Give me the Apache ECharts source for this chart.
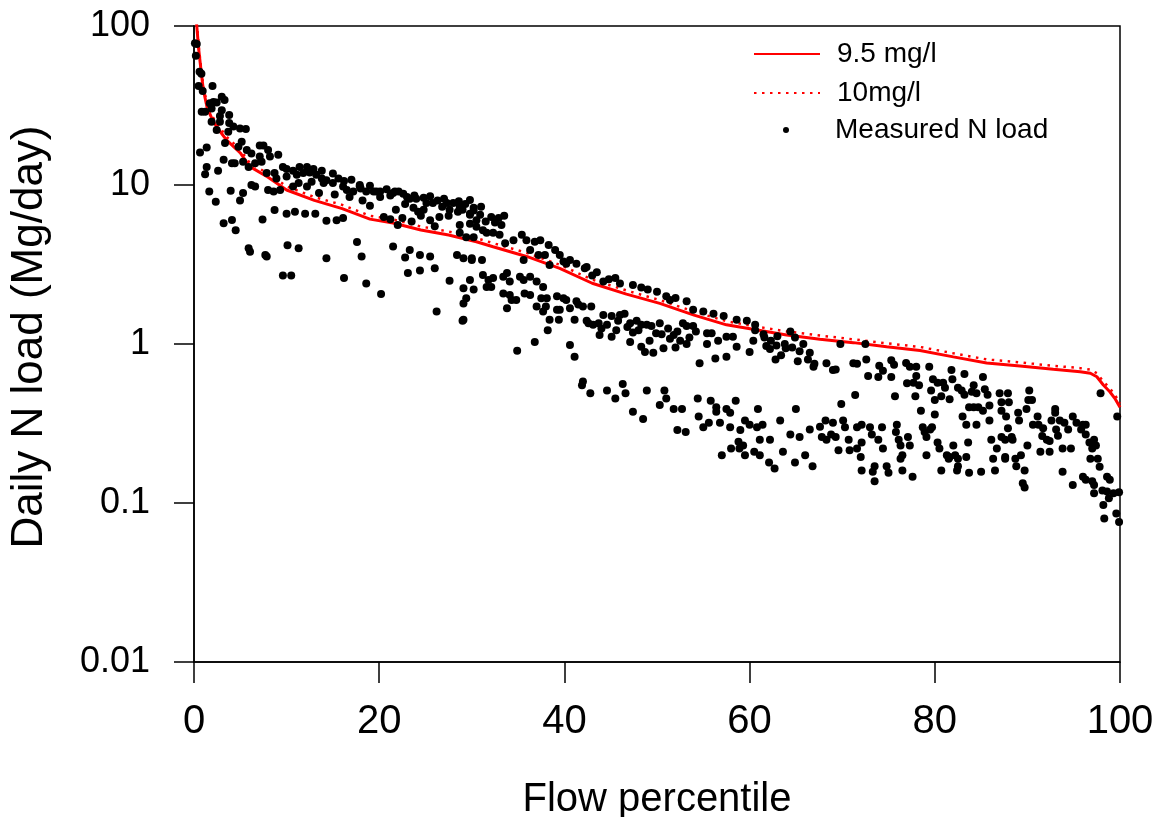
<!DOCTYPE html>
<html>
<head>
<meta charset="utf-8">
<script src="https://cdn.jsdelivr.net/npm/echarts@6/dist/echarts.min.js"></script>
<style>
html,body{margin:0;padding:0;background:#fff;}
#chart{width:1159px;height:817px;}
</style>
</head>
<body>
<div id="chart"></div>
<script>
// Flow percentile positions of the two reference load curves
const curvePct = [0,0.3,0.5,0.8,1.0,1.4,2.0,2.5,3.5,5,6,8,10,13,16,19,21.5,24.5,27.5,30.5,32.3,36,39.5,43,46.7,50.3,54,57.5,61,64,67.6,71.2,74.8,78.4,82,85.6,89.2,92.8,95.7,96.8,97.5,98.2,98.9,99.5,100];
// Load at 9.5 mg/l (Mg/day)
const load95 = [140,100,72,50,40,31,25.6,23,19.2,15.9,13.1,11.2,9.3,8.0,7.1,6.1,5.77,5.21,4.85,4.40,4.09,3.54,2.99,2.41,2.06,1.80,1.52,1.32,1.22,1.14,1.07,1.02,0.96,0.91,0.83,0.76,0.727,0.693,0.670,0.655,0.622,0.552,0.501,0.45,0.40];
// Load at 10 mg/l (Mg/day)
const load10 = [147,105.3,75.8,52.6,42.1,32.6,26.9,24.2,20.2,16.7,13.8,11.8,9.8,8.4,7.5,6.4,6.07,5.48,5.1,4.63,4.31,3.73,3.15,2.54,2.17,1.89,1.6,1.39,1.28,1.2,1.13,1.07,1.01,0.958,0.874,0.8,0.765,0.73,0.705,0.69,0.655,0.581,0.527,0.474,0.421];
// Measured N load points [flow percentile, Mg/day]
const measured = [
[0.1,78],[0.3,77],[0.2,65],[0.6,51.6],[0.8,50],[0.5,42],[0.94,39],[2.0,42],[0.83,28.9],[1.2,28.9],[1.7,32.7],[2.1,33.3],[2.45,33],[3.0,35.9],[3.3,34.3],[1.9,30.3],[3.0,29.5],[2.8,27.2],[3.8,27.6],[1.9,25],[2.8,25],[3.8,24.5],[4.25,23.3],[4.97,22.7],[5.6,22.5],[2.45,22.2],[3.7,21.6],[3.35,18.4],[5.15,18.7],[4.8,17.4],[5.7,16.6],[7.1,17.7],[7.5,17.7],[8.0,16.6],[6.2,15.8],[7.1,15.1],[8.2,15.1],[9.1,15.5],[0.65,16],[1.37,17.2],[3.2,14.4],[4.1,13.7],[4.4,13.7],[5.3,14],[6.6,13.7],[7.3,14],[5.9,13],[1.37,13],[1.2,11.7],[2.6,12.3],[7.85,11.9],[8.7,11.9],[9.6,13],[10,12.6],[10.7,12.3],[11.4,13],[12.2,13],[12.9,12.6],[8.9,11],[10,11.3],[11.1,11.6],[11.8,11.9],[13.2,11.6],[13.8,11],[14.3,10.7],[15.6,11],[6.2,10],[6.6,9.8],[8.0,9.3],[8.6,9.1],[9.3,9.3],[10.7,9.8],[11.3,10.3],[12.2,9.8],[12.7,10.5],[14,10.3],[15,10.3],[16.1,9.8],[16.5,9.3],[17.2,9.1],[17.9,9.8],[18.6,9.1],[19.4,9.1],[20.1,9.1],[21.2,8.6],[22.1,9.1],[23.3,8.2],[24,8.2],[25.1,7.7],[25.8,7.7],[27.3,7.7],[28,7.7],[29.8,6.6],[30.2,7.2],
[17.9,10],[19.7,9.1],[20.1,8.4],[21.7,9.1],[23,8.4],[23.7,7.2],[27.6,7],[29.8,8.05],[20.5,6.3],[21.2,6.1],[22.5,6.2],[23.5,5.9],[24.5,6.4],[25.5,6.0],[26.5,6.3],[27.5,6.4],[28.5,6.8],[22,5.6],[26,5.5],[24.8,7.0],[26.8,7.3],[22.8,7.6],[19,7.4],[18.2,8.0],[16.8,8.4],[15.2,8.7],[13.5,8.9],[24.2,6.8],[21.8,7.0],
[12.5,12],[13.8,12.3],[15,11.8],[16.2,10.6],[17,10.8],[18,9.5],[19,9.9],[20.8,9.4],[21.5,8.9],[22.6,8.8],[23.8,8.6],[24.8,8.3],[25.5,8.5],[26.3,8.0],[27,8.2],[28.6,7.9],[29.3,7.6],
[1.65,9.1],[2.35,7.85],[3.96,9.2],[4.97,8],[5.3,8.9],[3.2,5.74],[4.1,6.03],[4.5,5.2],[7.4,6.06],[8.7,6.97],[10,6.6],[10.9,6.8],[12,6.6],[13.1,6.6],[14.3,5.96],[15.4,6],[16.1,6.2],[5.9,4.0],[6.05,3.8],[7.7,3.63],[7.85,3.55],[10.1,4.18],[11.3,4.0],[14.3,3.46],[17.6,4.38],[18.1,3.55],[21.5,4.1],[23.3,3.9],[24.4,3.63],[25.5,3.55],[28.4,3.63],[30,3.46],
[9.6,2.7],[10.5,2.7],[18.6,2.4],[20.2,2.06],[23.1,2.8],[24.4,2.9],[26,3.0],[26.2,1.6],[27.6,2.5],[29,1.4],[22.8,3.5],[16.2,2.6],
[28.7,7.3],[29.8,6.5],[30.2,6.9],[30.9,6.5],[32.1,6.3],[32.9,6.2],[33.2,5.6],[28.7,5.6],[29.8,5.7],[30.5,5.47],[31.2,5.2],[31.6,5.0],[32.3,5.0],[33,4.87],[28.7,5.0],[29.4,4.7],[30.2,4.7],[33.6,4.3],[34.5,4.5],[35.4,4.87],[35.9,4.5],[36.8,4.4],[37.4,4.5],[38.3,4.2],[36.3,3.9],[35.6,3.37],[37.2,3.63],[37.9,3.63],[39,3.9],[38.4,3.14],[39.5,3.63],[39.9,3.3],[40.2,3.2],[40.6,3.37],[41.3,3.2],[42.2,3.0],[42.4,3.05],[43.5,2.83],[44.2,2.47],[45.5,2.6],[47.4,2.35],[48.3,2.27],[50,2.13],[51.4,1.89],[53.2,1.86],[53.9,1.64],[55,1.6],[56.1,1.55],[57.2,1.5],[58.6,1.42],[59.7,1.4],[60.6,1.32],
[29,7.0],[30.5,6.0],[31.5,5.9],[32.5,5.8],[33.5,6.4],[31,7.3],[43,2.7],[44.8,2.55],[46,2.4],[49,2.2],[51,2.0],[52,1.95],
[29.1,3.46],[30,3.37],[31.1,3.37],[29.1,2.24],[29.4,1.94],[29.1,1.8],[29.1,1.42],[29.8,2.53],[30.2,2.2],[31.2,2.72],[31.8,2.53],[32.3,2.6],[31.6,2.28],[32.1,2.28],[33.4,2.65],[33.8,2.8],[34.1,2.47],[33.4,2.08],[34.1,2.03],[34.3,1.89],[33.8,1.68],[34.8,1.89],[35.2,2.65],[35.6,2.53],[36.3,2.65],[37,2.47],[37.7,2.28],[35.7,2.08],[36.3,2.03],[37.5,1.94],[38.1,1.94],[37,1.72],[38,1.72],[37.7,1.6],[38.4,1.42],[38.2,1.22],[36.8,1.03],[34.9,0.908],[39.2,2.0],[39.9,1.94],[40.2,1.89],[39.2,1.64],[39.5,1.64],[39.4,1.42],[40.6,1.68],[41.3,1.86],[41.5,1.77],[42,1.72],[41.1,1.42],[40.6,0.985],[41.1,0.83],[42.4,1.4],[42.6,1.35],[42.9,1.72],[43.1,1.32],[43.7,1.35],[43.8,1.14],[44.2,1.52],[45.1,1.5],[44.6,1.32],[45.1,1.11],[45.6,1.22],[46,1.52],[46.5,1.55],[47.1,1.35],[47.4,1.18],[47.8,1.4],[48.3,1.32],[48.9,1.32],[49.4,1.3],[50.3,1.35],[49.9,1.17],[48.3,0.96],[48.7,0.89],[49.6,0.88],[47.1,1.03],[50.7,0.94],[51.4,1.08],[51.8,1.14],[52.5,1.05],[53.2,1.0],[52.8,1.35],[53.2,1.3],[53.9,1.3],[54.6,0.757],[55.4,1.17],[55.9,1.17],[55.4,1.0],[56.6,1.05],[57.5,1.11],[58.2,1.11],[56.3,0.81],[57.5,0.83],[58.6,0.96],[60,0.89],[60.4,1.05],[60.6,1.22],
[44,1.25],[45.8,1.4],[46.8,1.28],[48,1.22],[49.2,1.05],[50.5,1.15],[51.2,1.25],[52.2,1.2],[53.5,1.1],[54.2,1.2],[52,0.95],
[42,0.58],[41.9,0.55],[42.8,0.49],[44.6,0.51],[45.5,0.455],[46.3,0.56],[46.6,0.49],[47.4,0.375],[48.5,0.337],[48.9,0.51],[50.3,0.413],[50.8,0.51],[51,0.455],[51.8,0.39],[52.7,0.39],[52.2,0.288],[53.1,0.28],[54.4,0.455],[54.5,0.35],[55,0.3],[55.8,0.44],[56.4,0.4],[56.4,0.375],[55.6,0.32],[56.8,0.32],[57.5,0.39],[57.9,0.37],[58.5,0.44],[57.9,0.3],[59,0.288],[59.5,0.33],[60,0.31],[60.9,0.39],[60.8,0.3],[58.8,0.243],[59.3,0.23],[57,0.2],[58,0.22],[59.5,0.2],[60.5,0.21],[58.9,0.22],[61.1,0.2],
[61.6,1.1],[62.9,0.98],[63.9,0.94],[64.9,1.1],[65.4,0.9],[66.3,0.8],[67,0.75],[64.4,1.2],[63.4,0.85],[62.2,0.93],
[61.5,1.15],[62.3,1.05],[63,1.12],[63.8,1.0],[64.6,0.95],[65.8,1.0],[66.5,0.88],[62.8,0.8],[65.2,0.78],[66.9,0.72],[61.8,0.97],
[61.4,0.31],[62.2,0.25],[63.3,0.33],[63.6,0.21],[64.4,0.27],[65,0.39],[65.4,0.26],[66,0.2],[66.5,0.29],[66.8,0.17],[62.1,0.18],[64.9,0.18],[61.1,0.25],[62.7,0.165],
[69.8,1.0],[72.5,1.0],[68.3,0.757],[69,0.686],[69.3,0.69],[71.2,0.757],[71.6,0.75],[72.6,0.8],[72.8,0.63],[69.9,0.42],[71.4,0.478],[74,0.73],[74.4,0.68],[73.9,0.62],[75.3,0.79],[75.6,0.74],[75.3,0.62],[75.7,0.47],[76.9,0.76],[77.3,0.72],[78,0.72],[78,0.63],[77,0.567],[77.7,0.57],[78.3,0.55],[77.9,0.47],[79.4,0.72],[79.8,0.6],[80.3,0.57],[79.6,0.51],[80,0.445],[80.9,0.57],[81.1,0.53],[80.7,0.47],[81.8,0.686],[81.9,0.6],[81.6,0.45],[82.5,0.53],[82.9,0.51],[83.2,0.48],[83.2,0.647],[83,0.35],[83.4,0.31],[83.7,0.4],[84.2,0.4],[84.7,0.4],[84,0.5],[84.2,0.55],[84.5,0.49],[85.2,0.62],[85.4,0.52],[85.7,0.48],[85.2,0.38],[84.5,0.31],[85.9,0.41],[85.9,0.33],[87,0.49],[87.2,0.43],[87.9,0.49],[88,0.43],[87.2,0.38],[87.7,0.35],[87.9,0.295],[89,0.37],[89.1,0.33],[90.2,0.51],[90.1,0.445],[90.5,0.445],[89.9,0.39],[91.1,0.35],[90.6,0.31],[91.2,0.31],[91.7,0.295],[91.6,0.264],[92.1,0.25],[92.4,0.245],[93,0.39],[93,0.37],[92.6,0.33],[92.4,0.21],[93.5,0.33],[94,0.32],[94.4,0.29],[93.1,0.29],[93.3,0.265],[93.8,0.22],[94.7,0.22],[94.9,0.35],[95.3,0.32],[95.8,0.29],[96,0.31],[96.3,0.31],[96.3,0.27],[96.7,0.24],[97.2,0.25],[97.4,0.23],[97,0.22],[96.8,0.19],[97.6,0.19],[97.8,0.169],[93.8,0.157],[94.9,0.13],[96,0.146],[96.3,0.14],[97,0.137],[97.2,0.13],[97.2,0.115],[98.6,0.146],[98.9,0.14],[98.1,0.12],[98.6,0.118],[98.8,0.107],[99.3,0.115],[99.9,0.117],[98.2,0.097],[98.3,0.08],[99.6,0.086],[99.9,0.076],[99.7,0.35],[97.9,0.49],
[67.6,0.302],[68.2,0.33],[69,0.32],[67.8,0.26],[68.3,0.25],[68.8,0.27],[69.3,0.26],[69.6,0.215],[70.1,0.33],[70.3,0.3],[70.7,0.25],[70.8,0.215],[71.6,0.3],[72.1,0.31],[73,0.3],[73.2,0.27],[74.3,0.3],[73.9,0.25],[74.4,0.22],[72.1,0.24],[71.6,0.22],[72,0.195],[72.1,0.16],[73.5,0.17],[73.3,0.157],[73.5,0.137],[74.8,0.17],[75,0.155],[75.9,0.31],[75.8,0.28],[76.1,0.25],[76.3,0.23],[76.5,0.2],[76.3,0.19],[77.1,0.26],[77.3,0.23],[77.6,0.146],[76.5,0.16],[78.5,0.38],[78.7,0.3],[78.9,0.28],[79.1,0.26],[79.5,0.29],[79.7,0.3],[79.1,0.2],[80,0.36],[80.3,0.24],[80.5,0.22],[80.7,0.16],[81.3,0.2],[81.5,0.19],[81.6,0.195],[82,0.23],[82.2,0.2],[82.5,0.19],[82.4,0.16],[82.5,0.17],[83.4,0.195],[83.6,0.24],[83.7,0.155],[85,0.157],[86.1,0.25],[86.3,0.19],[86.5,0.16],[86.7,0.22],[87.2,0.26],[87.6,0.25],[87.6,0.195],[87.6,0.19],[88.3,0.26],[88.4,0.25],[88.7,0.19],[88.8,0.17],[89.3,0.2],[89.7,0.16],[89.5,0.133],[89.7,0.125],[90,0.23],[91.4,0.21]
];
const xTicks = [0,20,40,60,80,100];
const yTickLabels = ['0.01','0.1','1','10','100'];

const FONT = '"Liberation Sans", Arial, sans-serif';
const chart = echarts.init(document.getElementById('chart'));
const legendText = {fontSize: 28, color: '#000', fontFamily: FONT, padding: [0,0,0,12]};
const option = {
  animation: false,
  backgroundColor: '#fff',
  textStyle: {fontFamily: FONT},
  grid: {left: 194, right: 39, top: 26, bottom: 155, containLabel: false, outerBoundsMode: 'none',
         show: true, borderColor: '#000', borderWidth: 1.5, backgroundColor: 'transparent'},
  legend: [
    {data: ['9.5 mg/l'], left: 753, top: 40, padding: 0, itemWidth: 66, itemHeight: 14, selectedMode: false,
     itemStyle: {opacity: 0}, textStyle: legendText},
    {data: ['10mg/l'], left: 753, top: 79, padding: 0, itemWidth: 66, itemHeight: 14, selectedMode: false,
     itemStyle: {opacity: 0}, textStyle: legendText},
    {data: ['Measured N load'], left: 783, top: 116, padding: 0, itemWidth: 66, itemHeight: 6, selectedMode: false,
     textStyle: {fontSize: 28, color: '#000', fontFamily: FONT, padding: [0,0,0,11]}}
  ],
  xAxis: {
    type: 'value', min: 0, max: 100, interval: 20,
    axisLine: {onZero: false, lineStyle: {color: '#000', width: 1.5}},
    axisTick: {length: 21, lineStyle: {color: '#000', width: 1.5}},
    axisLabel: {fontSize: 40, color: '#000', margin: 40, fontFamily: FONT,
      formatter: v => xTicks.indexOf(v) >= 0 ? String(v) : ''},
    splitLine: {show: false},
    name: 'Flow percentile', nameLocation: 'middle', nameGap: 118,
    nameTextStyle: {fontSize: 40, color: '#000', fontFamily: FONT}
  },
  yAxis: {
    type: 'log', logBase: 10, min: 0.01, max: 100,
    axisLine: {onZero: false, lineStyle: {color: '#000', width: 1.5}},
    axisTick: {length: 20, lineStyle: {color: '#000', width: 1.5}},
    minorTick: {show: false},
    axisLabel: {fontSize: 36, color: '#000', margin: 44, fontFamily: FONT,
      formatter: v => { const i = Math.round(Math.log10(v)) + 2; return yTickLabels[i] || ''; }},
    splitLine: {show: false},
    name: 'Daily N load (Mg/day)', nameLocation: 'middle', nameGap: 142, nameRotate: 90,
    nameTextStyle: {fontSize: 44, color: '#000', fontFamily: FONT, padding: [0,0,0,14]}
  },
  series: [
    {name: '10mg/l', type: 'line', data: curvePct.map((x, i) => [x, load10[i]]), symbol: 'none', clip: true,
     lineStyle: {color: '#ff0000', width: 2.5, type: [2.5, 5.5]}, itemStyle: {color: '#ff0000'}, z: 2},
    {name: '9.5 mg/l', type: 'line', data: curvePct.map((x, i) => [x, load95[i]]), symbol: 'none', clip: true,
     lineStyle: {color: '#ff0000', width: 3}, itemStyle: {color: '#ff0000'}, z: 3},
    {name: 'Measured N load', type: 'scatter', data: measured, symbol: 'circle', symbolSize: 8,
     itemStyle: {color: '#000', opacity: 1}, z: 4}
  ]
};
chart.setOption(option);
</script>
</body>
</html>
